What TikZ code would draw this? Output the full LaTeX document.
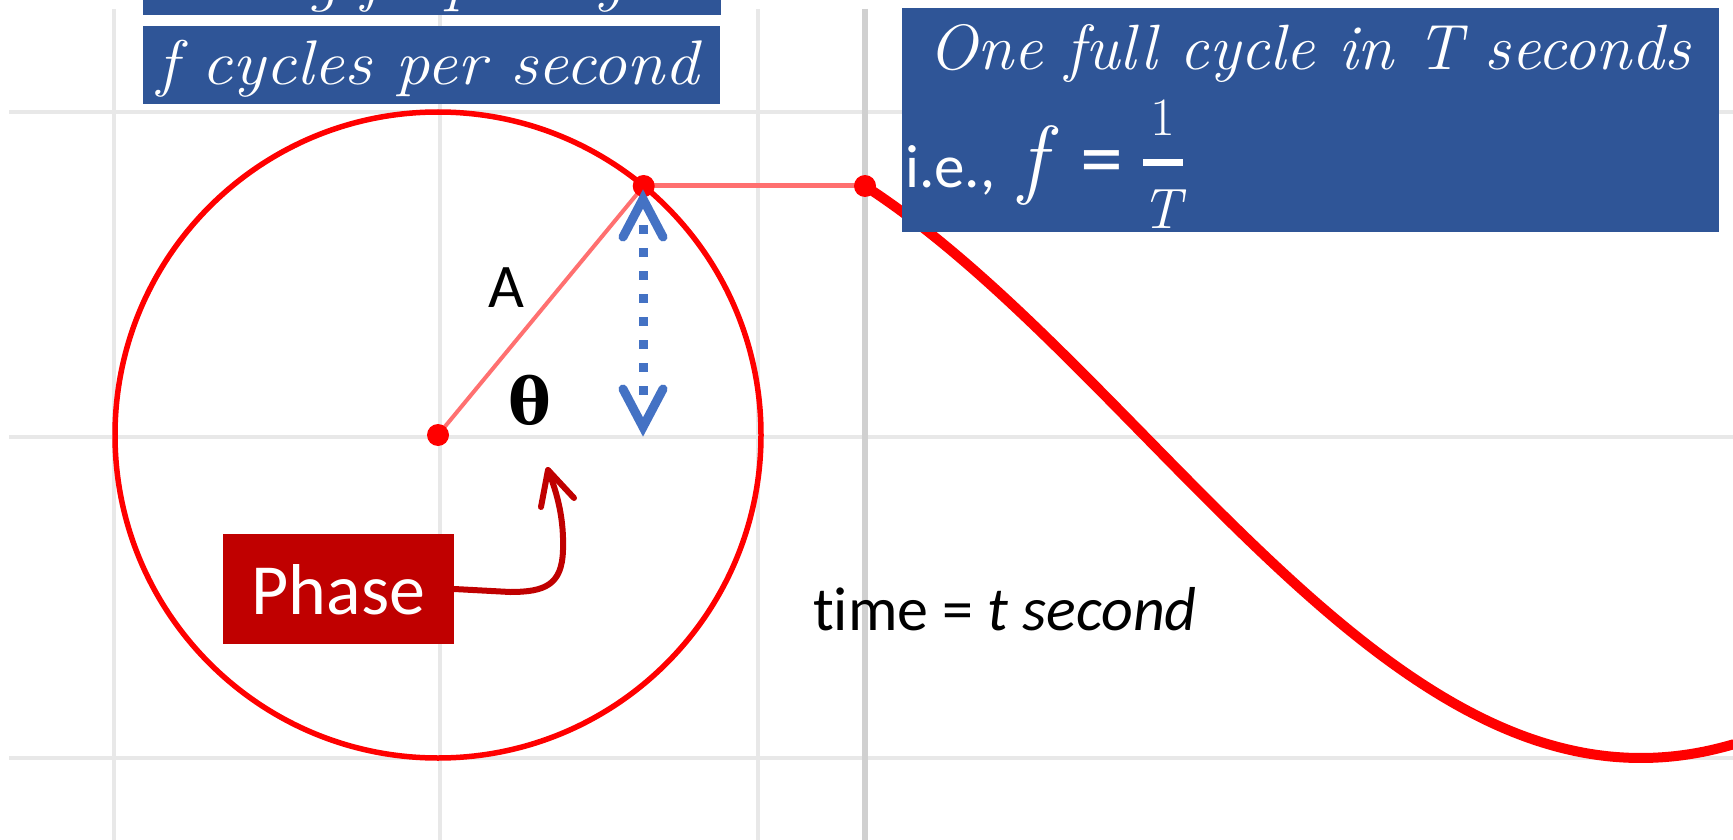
\documentclass[tikz,border=0pt]{standalone}
\usepackage{fontspec}
\usepackage{graphicx}
\usetikzlibrary{calc}
\newfontfamily\calibfont[Ligatures=NoCommon]{Carlito}
\newfontfamily\thetafont{DejaVu Serif}
\definecolor{boxblue}{HTML}{2F5597}
\definecolor{phasered}{HTML}{C00000}
\definecolor{arrowblue}{HTML}{4472C4}
\definecolor{gridgray}{HTML}{E8E8E8}
\definecolor{axisgray}{HTML}{D0D0D0}
\definecolor{lightred}{HTML}{FF7070}
\definecolor{pure}{HTML}{FF0000}
\newcommand{\boxitfont}{\fontsize{63}{68}\selectfont\itshape}
\begin{document}
\begin{tikzpicture}[x=1pt,y=-1pt,
  gridline/.style={gridgray,line width=4pt},
  axisline/.style={axisgray,line width=6pt},
  bluebox/.style={fill=boxblue,draw=none,inner sep=0pt,anchor=north west},
  reddot/.style={circle,fill=pure,draw=none,inner sep=0pt,minimum size=22pt},
  whitetext/.style={text=white,inner sep=0pt},
  blackcal/.style={inner sep=0pt,font=\calibfont\fontsize{62}{70}\selectfont},
  bluearrow/.style={arrowblue,line width=9pt},
  phasearrow/.style={phasered,line width=6pt,line cap=round,line join=round}
]
\useasboundingbox (0,0) rectangle (1733,840);
% grid
\draw[gridline] (9,112) -- (1733,112);
\draw[gridline] (9,437) -- (1733,437);
\draw[gridline] (9,758) -- (1733,758);
\draw[gridline] (114,9) -- (114,840);
\draw[gridline] (440,9) -- (440,840);
\draw[gridline] (758,9) -- (758,840);
\draw[axisline] (865,9) -- (865,840);
% geometry
\coordinate (O) at (438,435);
\coordinate (P) at (643.7,186);
\coordinate (Q) at (865,186);
\draw[pure,line width=5.5pt] (O) circle[radius=323pt];
\draw[lightred,line width=4pt] (O) -- (P);
\draw[lightred,line width=5pt] (P) -- (Q);
\draw[pure,line width=10pt,line cap=round] plot[domain=865:1733,samples=160,smooth] (\x,{435-323*sin(50.44-0.181*(\x-865))});
\node[reddot] (Odot) at (O) {};
\node[reddot] (Pdot) at (P) {};
\node[reddot] (Qdot) at (Q) {};
% blue dotted double arrow
\coordinate (atop) at (643,199);
\coordinate (abot) at (643,427);
\coordinate (dtop) at (643,225);
\coordinate (dbot) at (643,395);
\draw[bluearrow,dash pattern=on 9pt off 14pt] (dtop) -- (dbot);
\draw[bluearrow,line cap=round,line join=miter] ($(atop)+(-20,38)$) -- (atop) -- ($(atop)+(20,38)$);
\draw[bluearrow,line cap=round,line join=miter] ($(abot)+(-20,-38)$) -- (abot) -- ($(abot)+(20,-38)$);
% labels
\node[blackcal] (Alab) at (506,288) {A};
\node[inner sep=0pt,font=\thetafont\bfseries\fontsize{64}{70}\selectfont] (theta) at (530,400) {θ};
\node[blackcal,anchor=base west] (tlab) at (813,630) {time = \textit{t second}};
% phase
\node[fill=phasered,minimum width=231pt,minimum height=110pt,inner sep=0pt,text=white,text depth=0pt,font=\calibfont\fontsize{72}{80}\selectfont] (phase) at (338.5,589) {Phase};
\coordinate (phtip) at (548,470);
\draw[phasearrow] (phase.east) -- (510,592) .. controls (545,592) and (562,585) .. (563,550) .. controls (564,520) and (558,495) .. (phtip);
\draw[phasearrow] (541,507) -- (phtip) -- (574,498);
% top-left boxes
\node[bluebox,minimum width=578pt,minimum height=15pt] (box1) at (143,0) {};
\begin{scope}
\clip (143,0) rectangle (721,15);
\node[whitetext,anchor=base west,font=\boxitfont] (box1text) at (99,0) {\scalebox{1.05}[1]{Rotating frequency}};
\end{scope}
\node[bluebox,minimum width=577pt,minimum height=78pt] (box2) at (143,26) {};
\node[whitetext,anchor=base west,font=\boxitfont] (box2text) at (157,85) {\scalebox{1.09}[1]{f cycles per second}};
% top-right box
\node[bluebox,minimum width=817pt,minimum height=224pt] (box3) at (902,8) {};
\node[whitetext,anchor=base,font=\fontsize{64}{70}\selectfont\itshape] (line1) at (1309.5,70) {\scalebox{1.02}[1]{One full cycle in T seconds}};
\node[whitetext,anchor=base west,font=\calibfont\fontsize{61}{68}\selectfont] (ie) at (905,187) {i.e.,};
\node[whitetext,anchor=base,font=\fontsize{88}{92}\selectfont\itshape] (fsym) at (1033,188) {f};
\node[whitetext,anchor=base,font=\calibfont\fontsize{86}{90}\selectfont] (eq) at (1102,187) {=};
\node[whitetext,anchor=base,font=\fontsize{54}{60}\selectfont] (num) at (1163,136) {1};
\node[fill=white,inner sep=0pt,minimum width=40pt,minimum height=7pt] (fbar) at (1163,162.5) {};
\node[whitetext,anchor=base,font=\fontsize{57}{60}\selectfont\itshape] (den) at (1161,229) {T};
\end{tikzpicture}
\end{document}
